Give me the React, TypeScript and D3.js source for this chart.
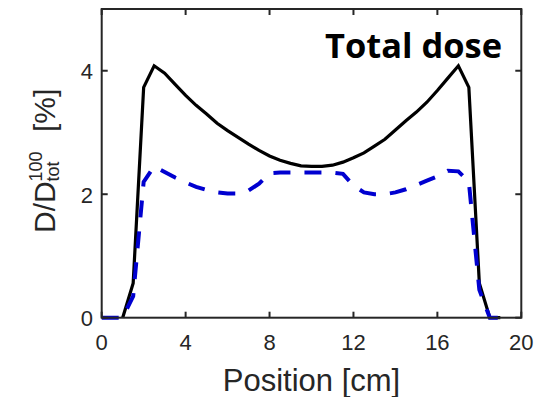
import React from "react";
import * as d3 from "d3";

const positions = [
  0, 0.5, 1.0, 1.5, 2.0, 2.5, 3.0, 3.5, 4.0, 4.5, 5.0, 5.5, 6.0, 6.5, 7.0, 7.5, 8.0, 8.5, 9.0, 9.5,
  10.0, 10.5, 11.0, 11.5, 12.0, 12.5, 13.0, 13.5, 14.0, 14.5, 15.0, 15.5, 16.0, 16.5, 17.0, 17.5,
  18.0, 18.5, 19.0, 19.5,
];

// Total dose (solid black); null = not drawn
const totalDose: (number | null)[] = [
  null, null, 0, 0.56, 3.73, 4.08, 3.96, 3.78, 3.6, 3.44, 3.3, 3.15, 3.03, 2.92, 2.81, 2.71, 2.62, 2.55, 2.5, 2.46,
  2.45, 2.45, 2.47, 2.52, 2.59, 2.67, 2.78, 2.89, 3.04, 3.19, 3.33, 3.49, 3.68, 3.88, 4.08, 3.73,
  0.56, 0, 0, null,
];

// Second dose component (dashed blue)
const partDose: (number | null)[] = [
  0, 0, 0, 0.35, 2.2, 2.45, 2.36, 2.27, 2.19, 2.12, 2.07, 2.03, 2.01, 2.01, 2.06, 2.17, 2.34, 2.35, 2.35, 2.35,
  2.35, 2.35, 2.35, 2.33, 2.14, 2.03, 2.0, 2.0, 2.03, 2.08, 2.15, 2.22, 2.29, 2.38, 2.37, 2.2,
  0.45, 0, 0, 0,
];

const xTicks = [0, 4, 8, 12, 16, 20];
const yTicks = [0, 2, 4];
const xDomain: [number, number] = [0, 20];
const yDomain: [number, number] = [0, 5];

const W = 534;
const H = 397;
const left = 101.7;
const right = 521.3;
const top = 9;
const bottom = 317.7;

const axisColor = "#262626";
const font = "'Liberation Sans', Arial, Helvetica, sans-serif";

export default function App() {
  const x = d3.scaleLinear().domain(xDomain).range([left, right]);
  const y = d3.scaleLinear().domain(yDomain).range([bottom, top]);

  const mk = (vals: (number | null)[]) =>
    d3
      .line<number>()
      .defined((_, i) => vals[i] !== null)
      .x((p) => x(p))
      .y((_, i) => y(vals[i] as number))(positions) || "";

  const tickLen = 6;

  return (
    <svg
      width={W}
      height={H}
      style={{ position: "absolute", left: 0, top: 0, background: "#fff" }}
    >
      <rect x={0} y={0} width={W} height={H} fill="#fff" />
      {/* data lines */}
      <path d={mk(totalDose)} fill="none" stroke="#000" strokeWidth={3.2} strokeLinejoin="miter" />
      <path
        d={mk(partDose)}
        fill="none"
        stroke="#0000d0"
        strokeWidth={4}
        strokeDasharray="17 14"
      />
      {/* box */}
      <rect
        x={left}
        y={top}
        width={right - left}
        height={bottom - top}
        fill="none"
        stroke={axisColor}
        strokeWidth={2}
      />
      {/* x ticks */}
      {xTicks.map((t) => (
        <g key={"x" + t}>
          <line x1={x(t)} x2={x(t)} y1={bottom} y2={bottom - tickLen} stroke={axisColor} strokeWidth={2} />
          <line x1={x(t)} x2={x(t)} y1={top} y2={top + tickLen} stroke={axisColor} strokeWidth={2} />
          <text
            x={x(t)}
            y={350}
            textAnchor="middle"
            fontFamily={font}
            fontSize={22}
            fill={axisColor}
          >
            {t}
          </text>
        </g>
      ))}
      {/* y ticks */}
      {yTicks.map((t) => (
        <g key={"y" + t}>
          <line x1={left} x2={left + tickLen} y1={y(t)} y2={y(t)} stroke={axisColor} strokeWidth={2} />
          <line x1={right} x2={right - tickLen} y1={y(t)} y2={y(t)} stroke={axisColor} strokeWidth={2} />
          <text
            x={93}
            y={y(t) + 8.5}
            textAnchor="end"
            fontFamily={font}
            fontSize={22}
            fill={axisColor}
          >
            {t}
          </text>
        </g>
      ))}
      {/* x label */}
      <text
        x={(left + right) / 2}
        y={391}
        textAnchor="middle"
        fontFamily={font}
        fontSize={31}
        fill={axisColor}
      >
        Position [cm]
      </text>
      {/* y label */}
      <g transform="translate(55,233) rotate(-90)" fontFamily={font} fill={axisColor}>
        <text x={0} y={0} fontSize={30}>D/D</text>
        <text x={51.5} y={-13} fontSize={18}>100</text>
        <text x={51.5} y={4} fontSize={18}>tot</text>
        <text x={101} y={0} fontSize={30}>[%]</text>
      </g>
      {/* title */}
      <text
        x={325}
        y={58.3}
        fontFamily="'Open Sans', 'Liberation Sans', Arial, sans-serif"
        fontWeight={700}
        fontSize={34}
        fill="#000"
        textLength={177}
        lengthAdjust="spacingAndGlyphs"
      >
        Total dose
      </text>
    </svg>
  );
}
